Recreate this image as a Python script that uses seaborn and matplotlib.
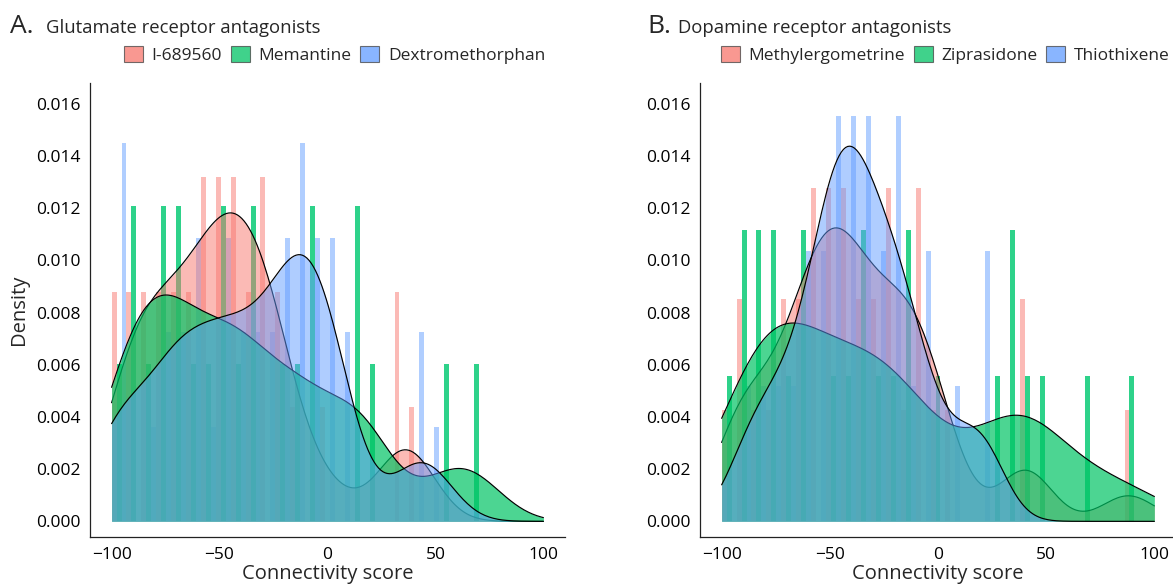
import numpy as np
import pandas as pd
import seaborn as sns
import matplotlib.pyplot as plt
from matplotlib.patches import Patch

# connectivity scores per drug (bin width 200/29)
i689560 = [-99, -95, -92, -88, -85, -81, -79, -75, -72, -68,
           -65, -61, -58, -56, -53, -51, -49, -46, -44, -42,
           -40, -37, -34, -31, -30, -28, -24, -22, -16, 0,
           33, 36, 40]
memantine = [-100, -93, -93, -86, -79, -79, -72, -72, -65, -58,
             -51, -47, -43, -37, -34, -23, -17, -9, -6, 12,
             15, 20, 55, 69]
dextromethorphan = [-100, -98, -97, -95, -82, -78, -75, -72, -69, -65,
                    -62, -60, -56, -51, -48, -46, -44, -40, -37, -34,
                    -30, -26, -23, -20, -18, -16, -14, -13, -11, -9,
                    -6, -4, -2, 0, 2, 5, 8, 40, 43, 49]

methylergometrine = [-97, -92, -89, -84, -77, -71, -67, -64, -60, -58,
                     -56, -53, -51, -49, -46, -44, -42, -40, -37, -34,
                     -30, -27, -23, -20, -18, -14, -10, -8, -5, -1,
                     6, 39, 42, 88]
ziprasidone = [-94, -87, -87, -80, -80, -73, -73, -66, -60, -59,
               -48, -42, -36, -33, -27, -21, -15, -12, 0, 27,
               33, 36, 41, 48, 69, 90]
thiothixene = [-90, -83, -76, -69, -63, -60, -53, -52, -50, -47,
               -46, -44, -42, -39, -37, -35, -33, -29, -26, -23,
               -20, -18, -14, -8, -6, 7, 19, 22]

panels = [
    ("A.", "Glutamate receptor antagonists",
     ["I-689560", "Memantine", "Dextromethorphan"],
     [i689560, memantine, dextromethorphan], [13, 15, 13]),
    ("B.", "Dopamine receptor antagonists",
     ["Methylergometrine", "Ziprasidone", "Thiothixene"],
     [methylergometrine, ziprasidone, thiothixene], [12, 20, 11]),
]

fill_colors = ["#F8766D", "#00C464", "#619CFF"]
fill_alpha = [0.5, 0.7, 0.5]
bar_colors = ["#FBBAB6", "#2ED28A", "#B0CEFF"]
edges = np.linspace(-100, 100, 30)

sns.set_style("white")
plt.rcParams["font.family"] = ["Open Sans", "DejaVu Sans"]

fig = plt.figure(figsize=(11.73, 5.86), dpi=100)
axes = [fig.add_axes([90 / 1173, 49 / 586, 475 / 1173, 454 / 586]),
        fig.add_axes([700 / 1173, 49 / 586, 476 / 1173, 454 / 586])]

for ax, (letter, title, names, groups, bws) in zip(axes, panels):
    df = pd.DataFrame({
        "score": np.concatenate(groups),
        "drug": np.repeat(names, [len(g) for g in groups]),
    })

    sns.histplot(data=df, x="score", hue="drug", hue_order=names,
                 palette=dict(zip(names, bar_colors)),
                 stat="density", common_norm=False, multiple="dodge",
                 bins=edges, shrink=1, alpha=1, linewidth=0,
                 legend=False, ax=ax)

    for i, (vals, h) in enumerate(zip(groups, bws)):
        bw = h / np.std(vals, ddof=1)
        sns.kdeplot(x=vals, ax=ax, fill=True, color=fill_colors[i],
                    alpha=fill_alpha[i], linewidth=0, bw_method=bw,
                    clip=(-100, 100), cut=10, zorder=3 + 2 * i)
        sns.kdeplot(x=vals, ax=ax, color="black", linewidth=0.85,
                    bw_method=bw, clip=(-100, 100), cut=10,
                    zorder=4 + 2 * i)

    ax.set_xlim(-110, 110)
    ax.set_ylim(-0.0006, 0.0168)
    ax.set_xticks([-100, -50, 0, 50, 100])
    ax.set_yticks(np.arange(0, 0.0161, 0.002))
    ax.yaxis.set_major_formatter(plt.FormatStrFormatter("%.3f"))
    ax.tick_params(labelsize=12.5, length=3, width=0.8, colors="#333333",
                   labelcolor="black", direction="out", pad=4)
    for s in ["top", "right"]:
        ax.spines[s].set_visible(False)
    for s in ["left", "bottom"]:
        ax.spines[s].set_color("#222222")
        ax.spines[s].set_linewidth(0.9)
    ax.set_xlabel("Connectivity score", fontsize=14.5, labelpad=1)
    ax.set_ylabel("")

    handles = [Patch(facecolor=c, alpha=0.75, edgecolor="#444444", linewidth=0.8)
               for c in fill_colors]
    ax.legend(handles, names, ncol=3, loc="center", bbox_to_anchor=(0.515, 1.062),
              frameon=False, fontsize=12.5, handlelength=1.1, handleheight=1.1,
              handletextpad=0.5, columnspacing=0.5, borderaxespad=0)

axes[0].set_ylabel("Density", fontsize=14.5, labelpad=5)

fig.text(10 / 1173, 1 - 33 / 586, "A.", fontsize=19, va="baseline")
fig.text(46 / 1173, 1 - 33 / 586, "Glutamate receptor antagonists", fontsize=13.3, va="baseline")
fig.text(647 / 1173, 1 - 33 / 586, "B.", fontsize=19, va="baseline")
fig.text(678 / 1173, 1 - 33 / 586, "Dopamine receptor antagonists", fontsize=13.3, va="baseline")

fig.savefig("out.png", dpi=100)
